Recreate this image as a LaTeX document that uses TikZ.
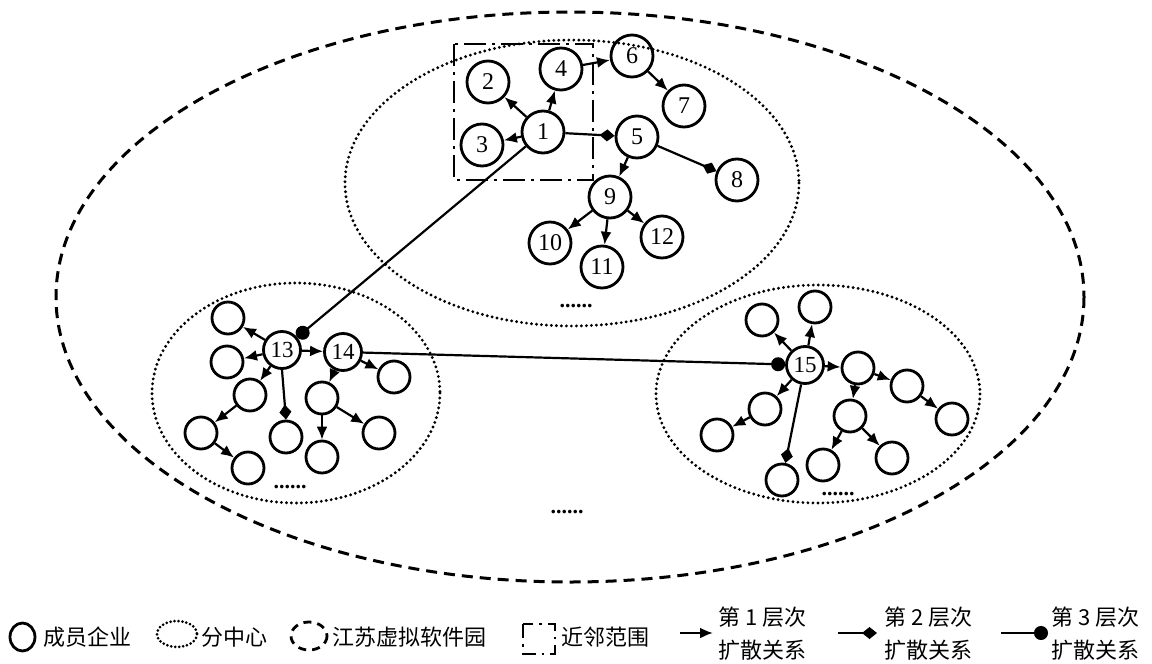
\documentclass[tikz,border=0pt]{standalone}
\usepackage{fontspec}
\setmainfont{Liberation Serif}
\newfontfamily\cjk{Noto Sans CJK SC}
\usetikzlibrary{arrows.meta}
\tikzset{
  topnode/.style={circle, draw, line width=2.8pt, minimum size=42pt, inner sep=0pt, font=\fontsize{24}{24}\selectfont},
  hubnode/.style={circle, draw, line width=2.8pt, minimum size=37pt, inner sep=0pt, font=\fontsize{23}{23}\selectfont},
  subnode/.style={circle, draw, line width=2.8pt, minimum size=32pt, inner sep=0pt},
  lineA/.style={-{Latex[length=13pt,width=11pt]}, line width=2.2pt},
  lineD/.style={-{Diamond[length=15pt,width=12pt]}, line width=2.2pt},
  lineC/.style={-{Circle[length=14pt]}, line width=2.2pt},
  parkline/.style={line width=3pt, dash pattern=on 11pt off 7pt},
  centerline/.style={line width=3.2pt, line cap=round, dash pattern=on 0pt off 5pt},
  nearline/.style={line width=2.8pt, dash pattern=on 22pt off 6pt on 3pt off 6pt},
  dotstext/.style={inner sep=0pt, font=\bfseries\fontsize{22}{22}\selectfont},
  legtext/.style={anchor=west, inner sep=0pt, font=\cjk\fontsize{22}{33}\selectfont, align=left}
}
\begin{document}
\begin{tikzpicture}[x=1pt,y=-1pt]
\useasboundingbox (0,0) rectangle (1152,664);
\fill[white] (0,0) rectangle (1152,664);

% regions
\draw[parkline] (570,297) ellipse [x radius=514, y radius=285];
\draw[centerline] (572,183) ellipse [x radius=227, y radius=143];
\draw[centerline] (296,393) ellipse [x radius=144, y radius=110];
\draw[centerline] (818,394) ellipse [x radius=162, y radius=109];
\draw[nearline] (454,44) rectangle (593,180);

% top cluster
\node[topnode] (n1) at (543,132) {1};
\node[topnode] (n2) at (488,82) {2};
\node[topnode] (n3) at (482,145) {3};
\node[topnode] (n4) at (561,69) {4};
\node[topnode] (n5) at (637,137) {5};
\node[topnode] (n6) at (632,56) {6};
\node[topnode] (n7) at (684,106) {7};
\node[topnode] (n8) at (737,180) {8};
\node[topnode] (n9) at (610,197) {9};
\node[topnode] (n10) at (550,243) {10};
\node[topnode] (n11) at (602,267) {11};
\node[topnode] (n12) at (662,237) {12};
\node[dotstext] (d1) at (576,306) {......};

\draw[lineA] (n1) -- (n2);
\draw[lineA] (n1) -- (n3);
\draw[lineA] (n1) -- (n4);
\draw[lineA] (n4) -- (n6);
\draw[lineA] (n6) -- (n7);
\draw[lineD] (n1) -- (n5);
\draw[lineD] (n5) -- (n8);
\draw[lineA] (n5) -- (n9);
\draw[lineA] (n9) -- (n10);
\draw[lineA] (n9) -- (n11);
\draw[lineA] (n9) -- (n12);

% left cluster
\node[hubnode] (n13) at (282,350) {13};
\node[hubnode] (n14) at (343,352) {14};
\node[subnode] (a1) at (228,318) {};
\node[subnode] (a2) at (227,362) {};
\node[subnode] (a3) at (250,395) {};
\node[subnode] (a4) at (201,433) {};
\node[subnode] (a5) at (248,468) {};
\node[subnode] (a6) at (286,437) {};
\node[subnode] (b1) at (394,377) {};
\node[subnode] (b2) at (322,398) {};
\node[subnode] (b3) at (379,433) {};
\node[subnode] (b4) at (322,457) {};
\node[dotstext] (d2) at (290,487) {......};

\draw[lineA] (n13) -- (a1);
\draw[lineA] (n13) -- (a2);
\draw[lineA] (n13) -- (a3);
\draw[lineA] (a3) -- (a4);
\draw[lineA] (a4) -- (a5);
\draw[lineD] (n13.south) -- (a6.north);
\draw[lineA] (n13) -- (n14);
\draw[lineA] (n14) -- (b1);
\draw[lineA] (n14) -- (b2);
\draw[lineA] (b2) -- (b3);
\draw[lineA] (b2) -- (b4);

% right cluster
\node[hubnode] (n15) at (805,365) {15};
\node[subnode] (c1) at (762,320) {};
\node[subnode] (c2) at (815,307) {};
\node[subnode] (c3) at (765,409) {};
\node[subnode] (c4) at (717,435) {};
\node[subnode] (c5) at (782,480) {};
\node[subnode] (c6) at (858,368) {};
\node[subnode] (c7) at (907,386) {};
\node[subnode] (c8) at (952,419) {};
\node[subnode] (c9) at (850,416) {};
\node[subnode] (c10) at (823,465) {};
\node[subnode] (c11) at (892,458) {};
\node[dotstext] (d3) at (838,494) {......};
\node[dotstext] (d4) at (567,512) {......};

\draw[lineA] (n15) -- (c1);
\draw[lineA] (n15) -- (c2);
\draw[lineA] (n15) -- (c3);
\draw[lineA] (c3) -- (c4);
\draw[lineD] (n15) -- (c5);
\draw[lineA] (n15) -- (c6);
\draw[lineA] (c6) -- (c7);
\draw[lineA] (c7) -- (c8);
\draw[lineA] (c6) -- (c9);
\draw[lineA] (c9) -- (c10);
\draw[lineA] (c9) -- (c11);

% cross-centre links
\draw[lineC] (n1) -- (n13);
\draw[lineC] (n14) -- (n15);

% legend
\draw[line width=2.8pt] (22.5,637) ellipse [x radius=12.5, y radius=14];
\node[legtext] (l1) at (43,637) {成员企业};
\draw[line width=3pt, line cap=round, dash pattern=on 0pt off 4pt] (177,634) ellipse [x radius=20, y radius=13];
\node[legtext] (l2) at (201,637) {分中心};
\draw[line width=2.8pt, dash pattern=on 8pt off 6pt] (309,636) ellipse [x radius=18, y radius=14];
\node[legtext] (l3) at (332,637) {江苏虚拟软件园};
\draw[line width=2.8pt, dash pattern=on 14pt off 6pt on 2.5pt off 6pt] (523,624) rectangle (555,654);
\node[legtext] (l4) at (561,637) {近邻范围};
\coordinate (s1) at (680,633);
\coordinate (e1) at (713,633);
\draw[lineA] (s1) -- (e1);
\node[legtext] (l5) at (718,634) {第 1 层次\\扩散关系};
\coordinate (s2) at (838,633);
\coordinate (e2) at (877,633);
\draw[lineD] (s2) -- (e2);
\node[legtext] (l6) at (884,634) {第 2 层次\\扩散关系};
\coordinate (s3) at (1001,633);
\coordinate (e3) at (1048,633);
\draw[lineC] (s3) -- (e3);
\node[legtext] (l7) at (1051,634) {第 3 层次\\扩散关系};
\end{tikzpicture}
\end{document}
